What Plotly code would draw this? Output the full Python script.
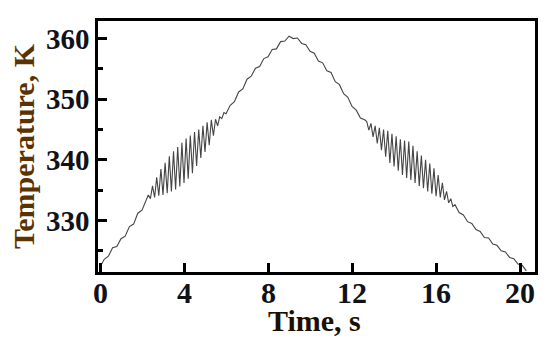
import plotly.graph_objects as go

# Time (s) and temperature (K) samples
time_s = [
    0.0, 0.2, 0.4, 0.6, 0.8, 1.0, 1.2, 1.4, 1.6, 1.8, 2.0, 2.2,
    2.3, 2.4, 2.5, 2.6, 2.7, 2.8, 2.9, 3.0, 3.1, 3.2, 3.3, 3.4, 3.5, 3.6, 3.7, 3.8, 3.9,
    4.0, 4.1, 4.2, 4.3, 4.4, 4.5, 4.6, 4.7, 4.8, 4.9, 5.0, 5.1, 5.2, 5.3, 5.4, 5.5, 5.6,
    5.7, 5.8, 5.9, 6.0,
    6.2, 6.4, 6.6, 6.8, 7.0, 7.2, 7.4, 7.6, 7.8, 8.0, 8.2, 8.4, 8.6, 8.8, 9.0, 9.2, 9.4,
    9.6, 9.8, 10.0, 10.2, 10.4, 10.6, 10.8, 11.0, 11.2, 11.4, 11.6, 11.8, 12.0, 12.2,
    12.4, 12.6,
    12.7, 12.8, 12.9, 13.0, 13.1, 13.2, 13.3, 13.4, 13.5, 13.6, 13.7, 13.8, 13.9, 14.0,
    14.1, 14.2, 14.3, 14.4, 14.5, 14.6, 14.7, 14.8, 14.9, 15.0, 15.1, 15.2, 15.3, 15.4,
    15.5, 15.6, 15.7, 15.8, 15.9, 16.0, 16.1, 16.2, 16.3, 16.4, 16.5, 16.6, 16.7, 16.8,
    16.9,
    17.1, 17.3, 17.5, 17.7, 17.9, 18.1, 18.3, 18.5, 18.7, 18.9, 19.1, 19.3, 19.5, 19.7,
    19.9, 20.1, 20.3,
]
temp_K = [
    322.3, 323.6, 324.1, 325.5, 325.7, 327.0, 327.4, 329.0, 329.4, 331.2, 331.7, 333.4,
    334.2, 333.6, 335.7, 333.8, 337.1, 334.1, 338.5, 334.2, 339.5, 334.5, 340.6, 334.8,
    341.4, 335.1, 342.1, 335.6, 342.8,
    336.2, 343.5, 336.9, 344.0, 337.8, 344.6, 339.0, 345.0, 340.3, 345.6, 341.3, 346.2,
    342.4, 346.6, 344.0, 346.7, 345.6, 347.1, 346.8, 347.8, 347.6,
    349.0, 349.6, 351.2, 351.7, 353.3, 353.8, 355.1, 355.4, 356.7, 357.0, 358.2, 358.3,
    359.5, 359.6, 360.4, 360.0, 360.1, 359.2, 359.0, 357.9, 357.6, 356.3, 356.0, 354.7,
    354.4, 352.9, 352.4, 350.9, 350.3, 348.8, 348.2, 346.9, 346.6,
    346.3, 344.9, 346.0, 343.8, 345.6, 342.7, 345.3, 341.6, 345.0, 340.5, 344.8, 339.5,
    344.3, 338.9, 343.9, 338.2, 343.4, 337.5, 343.2, 337.0, 343.0, 336.7, 342.3, 336.2,
    341.4, 335.7, 340.7, 335.3, 340.0, 334.8, 339.4, 334.4, 338.6, 334.0, 337.5, 333.8,
    336.2, 333.4, 334.8, 332.9, 333.6, 332.3, 332.6,
    331.3, 330.9, 329.8, 329.5, 328.5, 328.2, 327.2, 327.1, 326.1, 325.9, 325.0, 324.8,
    323.9, 323.7, 322.8, 322.6, 321.7,
]

x_ticks = [0, 4, 8, 12, 16, 20]
x_tick_labels = ["0", "4", "8", "12", "16", "20"]
y_ticks = [330, 340, 350, 360]
y_tick_labels = ["330", "340", "350", "360"]
x_title = "Time, s"
y_title = "Temperature, K"

fig = go.Figure()
fig.add_trace(go.Scatter(
    x=time_s, y=temp_K, mode="lines",
    line=dict(color="#454545", width=1.1),
    showlegend=False, hoverinfo="skip",
))

serif = "Liberation Serif, Times New Roman, serif"
tick_font = dict(family=serif, size=30, color="#111118", weight="bold")

fig.update_layout(
    width=550, height=348,
    margin=dict(l=98, r=15, t=21, b=76, autoexpand=False),
    paper_bgcolor="white", plot_bgcolor="white",
    font=dict(family=serif),
)
fig.update_xaxes(
    range=[-0.095, 20.71], automargin=False,
    tickmode="array", tickvals=x_ticks, showticklabels=False,
    ticks="inside", ticklen=9, tickwidth=2.5, tickcolor="black",
    showline=True, linecolor="black", linewidth=2.5, mirror=True,
    showgrid=False, zeroline=False,
)
fig.update_yaxes(
    range=[321.5, 362.9], automargin=False,
    tickmode="array", tickvals=y_ticks, ticktext=y_tick_labels,
    ticks="inside", ticklen=9, tickwidth=2.5, tickcolor="black",
    minor=dict(tickvals=[325, 335, 345, 355], ticks="inside", ticklen=5, tickwidth=2.5,
               tickcolor="black", showgrid=False),
    showline=True, linecolor="black", linewidth=2.5, mirror=True,
    showgrid=False, zeroline=False,
    tickfont=dict(family=serif, size=29, color="#111118", weight="bold"),
    title=dict(text=y_title, font=dict(family=serif, size=30, color="#5c3300", weight="bold"),
               standoff=3),
)
for tv, tl in zip(x_ticks, x_tick_labels):
    fig.add_annotation(
        text=tl, xref="x", yref="paper", x=tv, y=-0.082,
        xanchor="center", yanchor="middle", showarrow=False, font=tick_font,
    )
fig.add_annotation(
    text=x_title, xref="paper", yref="paper", x=0.495, y=-0.195,
    xanchor="center", yanchor="middle", showarrow=False,
    font=dict(family=serif, size=30, color="#1a1000", weight="bold"),
)

fig.write_html("out.html", post_script="document.body.style.margin='0';",
               config={"displayModeBar": False})
